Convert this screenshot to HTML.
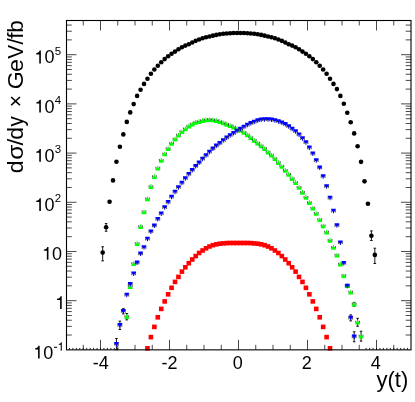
<!DOCTYPE html><html><head><meta charset="utf-8"><style>html,body{margin:0;padding:0;background:#fff}svg{display:block;will-change:transform}text{font-family:"Liberation Sans",sans-serif;fill:#000}</style></head><body>
<svg width="415" height="402" viewBox="0 0 415 402">
<rect width="415" height="402" fill="#fff"/>
<g>
<path d="M102.67 246.75V260.90M101.37 246.75h2.6M101.37 260.90h2.6" stroke="#000" stroke-width="0.9" fill="none"/>
<circle cx="102.67" cy="252.60" r="2.3" fill="#000"/>
<path d="M106.12 223.55V231.25M104.82 223.55h2.6M104.82 231.25h2.6" stroke="#000" stroke-width="0.9" fill="none"/>
<circle cx="106.12" cy="227.25" r="2.3" fill="#000"/>
<circle cx="109.56" cy="201.80" r="2.3" fill="#000"/>
<circle cx="113.01" cy="180.40" r="2.3" fill="#000"/>
<circle cx="116.45" cy="161.70" r="2.3" fill="#000"/>
<circle cx="119.90" cy="146.80" r="2.3" fill="#000"/>
<circle cx="123.34" cy="134.40" r="2.3" fill="#000"/>
<circle cx="126.79" cy="121.90" r="2.3" fill="#000"/>
<circle cx="130.23" cy="112.40" r="2.3" fill="#000"/>
<circle cx="133.68" cy="104.10" r="2.3" fill="#000"/>
<circle cx="137.12" cy="95.90" r="2.3" fill="#000"/>
<circle cx="140.57" cy="89.70" r="2.3" fill="#000"/>
<circle cx="144.01" cy="83.90" r="2.3" fill="#000"/>
<circle cx="147.46" cy="78.70" r="2.3" fill="#000"/>
<circle cx="150.90" cy="73.70" r="2.3" fill="#000"/>
<circle cx="154.35" cy="69.50" r="2.3" fill="#000"/>
<circle cx="157.79" cy="65.80" r="2.3" fill="#000"/>
<circle cx="161.24" cy="62.30" r="2.3" fill="#000"/>
<circle cx="164.68" cy="59.10" r="2.3" fill="#000"/>
<circle cx="168.13" cy="56.30" r="2.3" fill="#000"/>
<circle cx="171.57" cy="53.80" r="2.3" fill="#000"/>
<circle cx="175.02" cy="51.60" r="2.3" fill="#000"/>
<circle cx="178.46" cy="49.30" r="2.3" fill="#000"/>
<circle cx="181.91" cy="47.30" r="2.3" fill="#000"/>
<circle cx="185.35" cy="45.60" r="2.3" fill="#000"/>
<circle cx="188.80" cy="44.20" r="2.3" fill="#000"/>
<circle cx="192.24" cy="42.53" r="2.3" fill="#000"/>
<circle cx="195.69" cy="40.84" r="2.3" fill="#000"/>
<circle cx="199.13" cy="39.54" r="2.3" fill="#000"/>
<circle cx="202.58" cy="38.31" r="2.3" fill="#000"/>
<circle cx="206.02" cy="37.29" r="2.3" fill="#000"/>
<circle cx="209.47" cy="36.43" r="2.3" fill="#000"/>
<circle cx="212.91" cy="35.65" r="2.3" fill="#000"/>
<circle cx="216.36" cy="34.92" r="2.3" fill="#000"/>
<circle cx="219.80" cy="34.26" r="2.3" fill="#000"/>
<circle cx="223.25" cy="33.76" r="2.3" fill="#000"/>
<circle cx="226.69" cy="33.43" r="2.3" fill="#000"/>
<circle cx="230.14" cy="33.18" r="2.3" fill="#000"/>
<circle cx="233.58" cy="33.07" r="2.3" fill="#000"/>
<circle cx="237.03" cy="33.01" r="2.3" fill="#000"/>
<circle cx="240.47" cy="33.01" r="2.3" fill="#000"/>
<circle cx="243.92" cy="33.07" r="2.3" fill="#000"/>
<circle cx="247.36" cy="33.18" r="2.3" fill="#000"/>
<circle cx="250.81" cy="33.43" r="2.3" fill="#000"/>
<circle cx="254.25" cy="33.76" r="2.3" fill="#000"/>
<circle cx="257.70" cy="34.26" r="2.3" fill="#000"/>
<circle cx="261.14" cy="34.92" r="2.3" fill="#000"/>
<circle cx="264.59" cy="35.65" r="2.3" fill="#000"/>
<circle cx="268.03" cy="36.43" r="2.3" fill="#000"/>
<circle cx="271.48" cy="37.29" r="2.3" fill="#000"/>
<circle cx="274.92" cy="38.31" r="2.3" fill="#000"/>
<circle cx="278.37" cy="39.54" r="2.3" fill="#000"/>
<circle cx="281.81" cy="40.84" r="2.3" fill="#000"/>
<circle cx="285.26" cy="42.53" r="2.3" fill="#000"/>
<circle cx="288.70" cy="44.20" r="2.3" fill="#000"/>
<circle cx="292.15" cy="45.60" r="2.3" fill="#000"/>
<circle cx="295.59" cy="47.30" r="2.3" fill="#000"/>
<circle cx="299.04" cy="49.30" r="2.3" fill="#000"/>
<circle cx="302.48" cy="51.60" r="2.3" fill="#000"/>
<circle cx="305.93" cy="53.80" r="2.3" fill="#000"/>
<circle cx="309.37" cy="56.30" r="2.3" fill="#000"/>
<circle cx="312.82" cy="59.10" r="2.3" fill="#000"/>
<circle cx="316.26" cy="62.30" r="2.3" fill="#000"/>
<circle cx="319.71" cy="65.80" r="2.3" fill="#000"/>
<circle cx="323.15" cy="69.50" r="2.3" fill="#000"/>
<circle cx="326.60" cy="73.70" r="2.3" fill="#000"/>
<circle cx="330.04" cy="78.70" r="2.3" fill="#000"/>
<circle cx="333.49" cy="83.90" r="2.3" fill="#000"/>
<circle cx="336.93" cy="89.10" r="2.3" fill="#000"/>
<circle cx="340.38" cy="95.90" r="2.3" fill="#000"/>
<circle cx="343.82" cy="103.70" r="2.3" fill="#000"/>
<circle cx="347.27" cy="112.70" r="2.3" fill="#000"/>
<circle cx="350.71" cy="122.20" r="2.3" fill="#000"/>
<circle cx="354.16" cy="133.40" r="2.3" fill="#000"/>
<circle cx="357.60" cy="146.20" r="2.3" fill="#000"/>
<circle cx="361.05" cy="161.85" r="2.3" fill="#000"/>
<circle cx="364.49" cy="181.35" r="2.3" fill="#000"/>
<circle cx="367.94" cy="203.80" r="2.3" fill="#000"/>
<path d="M371.38 230.90V240.50M370.08 230.90h2.6M370.08 240.50h2.6" stroke="#000" stroke-width="0.9" fill="none"/>
<circle cx="371.38" cy="235.70" r="2.3" fill="#000"/>
<path d="M374.83 248.20V263.50M373.53 248.20h2.6M373.53 263.50h2.6" stroke="#000" stroke-width="0.9" fill="none"/>
<circle cx="374.83" cy="254.90" r="2.3" fill="#000"/>
<rect x="145.16" y="346.00" width="4.6" height="4.6" fill="#f00"/>
<rect x="148.60" y="334.80" width="4.6" height="4.6" fill="#f00"/>
<rect x="152.05" y="324.60" width="4.6" height="4.6" fill="#f00"/>
<rect x="155.49" y="315.00" width="4.6" height="4.6" fill="#f00"/>
<rect x="158.94" y="306.60" width="4.6" height="4.6" fill="#f00"/>
<rect x="162.38" y="299.10" width="4.6" height="4.6" fill="#f00"/>
<rect x="165.83" y="292.00" width="4.6" height="4.6" fill="#f00"/>
<rect x="169.27" y="285.50" width="4.6" height="4.6" fill="#f00"/>
<rect x="172.72" y="279.60" width="4.6" height="4.6" fill="#f00"/>
<rect x="176.16" y="274.60" width="4.6" height="4.6" fill="#f00"/>
<rect x="179.61" y="269.30" width="4.6" height="4.6" fill="#f00"/>
<rect x="183.05" y="265.00" width="4.6" height="4.6" fill="#f00"/>
<rect x="186.50" y="260.90" width="4.6" height="4.6" fill="#f00"/>
<rect x="189.94" y="257.20" width="4.6" height="4.6" fill="#f00"/>
<rect x="193.39" y="253.80" width="4.6" height="4.6" fill="#f00"/>
<rect x="196.83" y="250.70" width="4.6" height="4.6" fill="#f00"/>
<rect x="200.28" y="248.20" width="4.6" height="4.6" fill="#f00"/>
<rect x="203.72" y="246.00" width="4.6" height="4.6" fill="#f00"/>
<rect x="207.17" y="244.20" width="4.6" height="4.6" fill="#f00"/>
<rect x="210.61" y="242.90" width="4.6" height="4.6" fill="#f00"/>
<rect x="214.06" y="242.00" width="4.6" height="4.6" fill="#f00"/>
<rect x="217.50" y="241.40" width="4.6" height="4.6" fill="#f00"/>
<rect x="220.95" y="241.10" width="4.6" height="4.6" fill="#f00"/>
<rect x="224.39" y="240.80" width="4.6" height="4.6" fill="#f00"/>
<rect x="227.84" y="240.70" width="4.6" height="4.6" fill="#f00"/>
<rect x="231.28" y="240.70" width="4.6" height="4.6" fill="#f00"/>
<rect x="234.73" y="240.70" width="4.6" height="4.6" fill="#f00"/>
<rect x="238.17" y="240.70" width="4.6" height="4.6" fill="#f00"/>
<rect x="241.62" y="240.70" width="4.6" height="4.6" fill="#f00"/>
<rect x="245.06" y="240.70" width="4.6" height="4.6" fill="#f00"/>
<rect x="248.51" y="240.80" width="4.6" height="4.6" fill="#f00"/>
<rect x="251.95" y="241.10" width="4.6" height="4.6" fill="#f00"/>
<rect x="255.40" y="241.40" width="4.6" height="4.6" fill="#f00"/>
<rect x="258.84" y="242.00" width="4.6" height="4.6" fill="#f00"/>
<rect x="262.29" y="242.90" width="4.6" height="4.6" fill="#f00"/>
<rect x="265.73" y="244.20" width="4.6" height="4.6" fill="#f00"/>
<rect x="269.18" y="246.00" width="4.6" height="4.6" fill="#f00"/>
<rect x="272.62" y="248.20" width="4.6" height="4.6" fill="#f00"/>
<rect x="276.07" y="250.70" width="4.6" height="4.6" fill="#f00"/>
<rect x="279.51" y="253.80" width="4.6" height="4.6" fill="#f00"/>
<rect x="282.96" y="257.20" width="4.6" height="4.6" fill="#f00"/>
<rect x="286.40" y="260.90" width="4.6" height="4.6" fill="#f00"/>
<rect x="289.85" y="265.00" width="4.6" height="4.6" fill="#f00"/>
<rect x="293.29" y="269.30" width="4.6" height="4.6" fill="#f00"/>
<rect x="296.74" y="274.60" width="4.6" height="4.6" fill="#f00"/>
<rect x="300.18" y="279.60" width="4.6" height="4.6" fill="#f00"/>
<rect x="303.63" y="285.50" width="4.6" height="4.6" fill="#f00"/>
<rect x="307.07" y="292.00" width="4.6" height="4.6" fill="#f00"/>
<rect x="310.52" y="299.10" width="4.6" height="4.6" fill="#f00"/>
<rect x="313.96" y="306.60" width="4.6" height="4.6" fill="#f00"/>
<rect x="317.41" y="315.00" width="4.6" height="4.6" fill="#f00"/>
<rect x="320.85" y="324.60" width="4.6" height="4.6" fill="#f00"/>
<rect x="324.30" y="334.80" width="4.6" height="4.6" fill="#f00"/>
<rect x="327.74" y="346.00" width="4.6" height="4.6" fill="#f00"/>
<path d="M126.79 313.50V319.90M125.49 313.50h2.6M125.49 319.90h2.6" stroke="#000" stroke-width="0.9" fill="none"/>
<path d="M124.39 315.25h1.1v2h-1.1zM128.09 315.25h1.1v2h-1.1z" fill="#3a3040" fill-opacity="0.8"/>
<path transform="translate(126.79,316.70)" d="M-2.3 2.3H2.3V0.5H1.5L1.35 -0.5H0.6L0.47 -2.35H-0.47L-0.6 -0.5H-1.35L-1.5 0.5H-2.3Z" fill="#00ff00"/>
<path d="M127.83 285.25h1.1v2h-1.1zM131.53 285.25h1.1v2h-1.1z" fill="#3a3040" fill-opacity="0.8"/>
<path transform="translate(130.23,286.70)" d="M-2.3 2.3H2.3V0.5H1.5L1.35 -0.5H0.6L0.47 -2.35H-0.47L-0.6 -0.5H-1.35L-1.5 0.5H-2.3Z" fill="#00ff00"/>
<path d="M131.28 262.35h1.1v2h-1.1zM134.98 262.35h1.1v2h-1.1z" fill="#3a3040" fill-opacity="0.8"/>
<path transform="translate(133.68,263.80)" d="M-2.3 2.3H2.3V0.5H1.5L1.35 -0.5H0.6L0.47 -2.35H-0.47L-0.6 -0.5H-1.35L-1.5 0.5H-2.3Z" fill="#00ff00"/>
<path d="M134.72 242.25h1.1v2h-1.1zM138.42 242.25h1.1v2h-1.1z" fill="#3a3040" fill-opacity="0.8"/>
<path transform="translate(137.12,243.70)" d="M-2.3 2.3H2.3V0.5H1.5L1.35 -0.5H0.6L0.47 -2.35H-0.47L-0.6 -0.5H-1.35L-1.5 0.5H-2.3Z" fill="#00ff00"/>
<path d="M138.17 225.35h1.1v2h-1.1zM141.87 225.35h1.1v2h-1.1z" fill="#3a3040" fill-opacity="0.8"/>
<path transform="translate(140.57,226.80)" d="M-2.3 2.3H2.3V0.5H1.5L1.35 -0.5H0.6L0.47 -2.35H-0.47L-0.6 -0.5H-1.35L-1.5 0.5H-2.3Z" fill="#00ff00"/>
<path d="M141.61 210.45h1.1v2h-1.1zM145.31 210.45h1.1v2h-1.1z" fill="#3a3040" fill-opacity="0.8"/>
<path transform="translate(144.01,211.90)" d="M-2.3 2.3H2.3V0.5H1.5L1.35 -0.5H0.6L0.47 -2.35H-0.47L-0.6 -0.5H-1.35L-1.5 0.5H-2.3Z" fill="#00ff00"/>
<path d="M145.06 197.45h1.1v2h-1.1zM148.76 197.45h1.1v2h-1.1z" fill="#3a3040" fill-opacity="0.8"/>
<path transform="translate(147.46,198.90)" d="M-2.3 2.3H2.3V0.5H1.5L1.35 -0.5H0.6L0.47 -2.35H-0.47L-0.6 -0.5H-1.35L-1.5 0.5H-2.3Z" fill="#00ff00"/>
<path d="M148.50 185.25h1.1v2h-1.1zM152.20 185.25h1.1v2h-1.1z" fill="#3a3040" fill-opacity="0.8"/>
<path transform="translate(150.90,186.70)" d="M-2.3 2.3H2.3V0.5H1.5L1.35 -0.5H0.6L0.47 -2.35H-0.47L-0.6 -0.5H-1.35L-1.5 0.5H-2.3Z" fill="#00ff00"/>
<path d="M151.95 175.25h1.1v2h-1.1zM155.65 175.25h1.1v2h-1.1z" fill="#3a3040" fill-opacity="0.8"/>
<path transform="translate(154.35,176.70)" d="M-2.3 2.3H2.3V0.5H1.5L1.35 -0.5H0.6L0.47 -2.35H-0.47L-0.6 -0.5H-1.35L-1.5 0.5H-2.3Z" fill="#00ff00"/>
<path d="M155.39 166.85h1.1v2h-1.1zM159.09 166.85h1.1v2h-1.1z" fill="#3a3040" fill-opacity="0.8"/>
<path transform="translate(157.79,168.30)" d="M-2.3 2.3H2.3V0.5H1.5L1.35 -0.5H0.6L0.47 -2.35H-0.47L-0.6 -0.5H-1.35L-1.5 0.5H-2.3Z" fill="#00ff00"/>
<path d="M158.84 158.95h1.1v2h-1.1zM162.54 158.95h1.1v2h-1.1z" fill="#3a3040" fill-opacity="0.8"/>
<path transform="translate(161.24,160.40)" d="M-2.3 2.3H2.3V0.5H1.5L1.35 -0.5H0.6L0.47 -2.35H-0.47L-0.6 -0.5H-1.35L-1.5 0.5H-2.3Z" fill="#00ff00"/>
<path d="M162.28 152.55h1.1v2h-1.1zM165.98 152.55h1.1v2h-1.1z" fill="#3a3040" fill-opacity="0.8"/>
<path transform="translate(164.68,154.00)" d="M-2.3 2.3H2.3V0.5H1.5L1.35 -0.5H0.6L0.47 -2.35H-0.47L-0.6 -0.5H-1.35L-1.5 0.5H-2.3Z" fill="#00ff00"/>
<path d="M165.73 147.15h1.1v2h-1.1zM169.43 147.15h1.1v2h-1.1z" fill="#3a3040" fill-opacity="0.8"/>
<path transform="translate(168.13,148.60)" d="M-2.3 2.3H2.3V0.5H1.5L1.35 -0.5H0.6L0.47 -2.35H-0.47L-0.6 -0.5H-1.35L-1.5 0.5H-2.3Z" fill="#00ff00"/>
<path d="M169.17 142.05h1.1v2h-1.1zM172.87 142.05h1.1v2h-1.1z" fill="#3a3040" fill-opacity="0.8"/>
<path transform="translate(171.57,143.50)" d="M-2.3 2.3H2.3V0.5H1.5L1.35 -0.5H0.6L0.47 -2.35H-0.47L-0.6 -0.5H-1.35L-1.5 0.5H-2.3Z" fill="#00ff00"/>
<path d="M172.62 137.65h1.1v2h-1.1zM176.32 137.65h1.1v2h-1.1z" fill="#3a3040" fill-opacity="0.8"/>
<path transform="translate(175.02,139.10)" d="M-2.3 2.3H2.3V0.5H1.5L1.35 -0.5H0.6L0.47 -2.35H-0.47L-0.6 -0.5H-1.35L-1.5 0.5H-2.3Z" fill="#00ff00"/>
<path d="M176.06 133.85h1.1v2h-1.1zM179.76 133.85h1.1v2h-1.1z" fill="#3a3040" fill-opacity="0.8"/>
<path transform="translate(178.46,135.30)" d="M-2.3 2.3H2.3V0.5H1.5L1.35 -0.5H0.6L0.47 -2.35H-0.47L-0.6 -0.5H-1.35L-1.5 0.5H-2.3Z" fill="#00ff00"/>
<path d="M179.51 130.35h1.1v2h-1.1zM183.21 130.35h1.1v2h-1.1z" fill="#3a3040" fill-opacity="0.8"/>
<path transform="translate(181.91,131.80)" d="M-2.3 2.3H2.3V0.5H1.5L1.35 -0.5H0.6L0.47 -2.35H-0.47L-0.6 -0.5H-1.35L-1.5 0.5H-2.3Z" fill="#00ff00"/>
<path d="M182.95 127.45h1.1v2h-1.1zM186.65 127.45h1.1v2h-1.1z" fill="#3a3040" fill-opacity="0.8"/>
<path transform="translate(185.35,128.90)" d="M-2.3 2.3H2.3V0.5H1.5L1.35 -0.5H0.6L0.47 -2.35H-0.47L-0.6 -0.5H-1.35L-1.5 0.5H-2.3Z" fill="#00ff00"/>
<path d="M186.40 124.65h1.1v2h-1.1zM190.10 124.65h1.1v2h-1.1z" fill="#3a3040" fill-opacity="0.8"/>
<path transform="translate(188.80,126.10)" d="M-2.3 2.3H2.3V0.5H1.5L1.35 -0.5H0.6L0.47 -2.35H-0.47L-0.6 -0.5H-1.35L-1.5 0.5H-2.3Z" fill="#00ff00"/>
<path d="M189.84 122.65h1.1v2h-1.1zM193.54 122.65h1.1v2h-1.1z" fill="#3a3040" fill-opacity="0.8"/>
<path transform="translate(192.24,124.10)" d="M-2.3 2.3H2.3V0.5H1.5L1.35 -0.5H0.6L0.47 -2.35H-0.47L-0.6 -0.5H-1.35L-1.5 0.5H-2.3Z" fill="#00ff00"/>
<path d="M193.29 120.95h1.1v2h-1.1zM196.99 120.95h1.1v2h-1.1z" fill="#3a3040" fill-opacity="0.8"/>
<path transform="translate(195.69,122.40)" d="M-2.3 2.3H2.3V0.5H1.5L1.35 -0.5H0.6L0.47 -2.35H-0.47L-0.6 -0.5H-1.35L-1.5 0.5H-2.3Z" fill="#00ff00"/>
<path d="M196.73 120.15h1.1v2h-1.1zM200.43 120.15h1.1v2h-1.1z" fill="#3a3040" fill-opacity="0.8"/>
<path transform="translate(199.13,121.60)" d="M-2.3 2.3H2.3V0.5H1.5L1.35 -0.5H0.6L0.47 -2.35H-0.47L-0.6 -0.5H-1.35L-1.5 0.5H-2.3Z" fill="#00ff00"/>
<path d="M200.18 119.15h1.1v2h-1.1zM203.88 119.15h1.1v2h-1.1z" fill="#3a3040" fill-opacity="0.8"/>
<path transform="translate(202.58,120.60)" d="M-2.3 2.3H2.3V0.5H1.5L1.35 -0.5H0.6L0.47 -2.35H-0.47L-0.6 -0.5H-1.35L-1.5 0.5H-2.3Z" fill="#00ff00"/>
<path d="M203.62 118.50h1.1v2h-1.1zM207.32 118.50h1.1v2h-1.1z" fill="#3a3040" fill-opacity="0.8"/>
<path transform="translate(206.02,119.95)" d="M-2.3 2.3H2.3V0.5H1.5L1.35 -0.5H0.6L0.47 -2.35H-0.47L-0.6 -0.5H-1.35L-1.5 0.5H-2.3Z" fill="#00ff00"/>
<path d="M207.07 118.30h1.1v2h-1.1zM210.77 118.30h1.1v2h-1.1z" fill="#3a3040" fill-opacity="0.8"/>
<path transform="translate(209.47,119.75)" d="M-2.3 2.3H2.3V0.5H1.5L1.35 -0.5H0.6L0.47 -2.35H-0.47L-0.6 -0.5H-1.35L-1.5 0.5H-2.3Z" fill="#00ff00"/>
<path d="M210.51 118.50h1.1v2h-1.1zM214.21 118.50h1.1v2h-1.1z" fill="#3a3040" fill-opacity="0.8"/>
<path transform="translate(212.91,119.95)" d="M-2.3 2.3H2.3V0.5H1.5L1.35 -0.5H0.6L0.47 -2.35H-0.47L-0.6 -0.5H-1.35L-1.5 0.5H-2.3Z" fill="#00ff00"/>
<path d="M213.96 119.15h1.1v2h-1.1zM217.66 119.15h1.1v2h-1.1z" fill="#3a3040" fill-opacity="0.8"/>
<path transform="translate(216.36,120.60)" d="M-2.3 2.3H2.3V0.5H1.5L1.35 -0.5H0.6L0.47 -2.35H-0.47L-0.6 -0.5H-1.35L-1.5 0.5H-2.3Z" fill="#00ff00"/>
<path d="M217.40 120.15h1.1v2h-1.1zM221.10 120.15h1.1v2h-1.1z" fill="#3a3040" fill-opacity="0.8"/>
<path transform="translate(219.80,121.60)" d="M-2.3 2.3H2.3V0.5H1.5L1.35 -0.5H0.6L0.47 -2.35H-0.47L-0.6 -0.5H-1.35L-1.5 0.5H-2.3Z" fill="#00ff00"/>
<path d="M220.85 121.45h1.1v2h-1.1zM224.55 121.45h1.1v2h-1.1z" fill="#3a3040" fill-opacity="0.8"/>
<path transform="translate(223.25,122.90)" d="M-2.3 2.3H2.3V0.5H1.5L1.35 -0.5H0.6L0.47 -2.35H-0.47L-0.6 -0.5H-1.35L-1.5 0.5H-2.3Z" fill="#00ff00"/>
<path d="M224.29 122.95h1.1v2h-1.1zM227.99 122.95h1.1v2h-1.1z" fill="#3a3040" fill-opacity="0.8"/>
<path transform="translate(226.69,124.40)" d="M-2.3 2.3H2.3V0.5H1.5L1.35 -0.5H0.6L0.47 -2.35H-0.47L-0.6 -0.5H-1.35L-1.5 0.5H-2.3Z" fill="#00ff00"/>
<path d="M227.74 124.20h1.1v2h-1.1zM231.44 124.20h1.1v2h-1.1z" fill="#3a3040" fill-opacity="0.8"/>
<path transform="translate(230.14,125.65)" d="M-2.3 2.3H2.3V0.5H1.5L1.35 -0.5H0.6L0.47 -2.35H-0.47L-0.6 -0.5H-1.35L-1.5 0.5H-2.3Z" fill="#00ff00"/>
<path d="M231.18 125.70h1.1v2h-1.1zM234.88 125.70h1.1v2h-1.1z" fill="#3a3040" fill-opacity="0.8"/>
<path transform="translate(233.58,127.15)" d="M-2.3 2.3H2.3V0.5H1.5L1.35 -0.5H0.6L0.47 -2.35H-0.47L-0.6 -0.5H-1.35L-1.5 0.5H-2.3Z" fill="#00ff00"/>
<path d="M234.63 127.45h1.1v2h-1.1zM238.33 127.45h1.1v2h-1.1z" fill="#3a3040" fill-opacity="0.8"/>
<path transform="translate(237.03,128.90)" d="M-2.3 2.3H2.3V0.5H1.5L1.35 -0.5H0.6L0.47 -2.35H-0.47L-0.6 -0.5H-1.35L-1.5 0.5H-2.3Z" fill="#00ff00"/>
<path d="M238.07 128.75h1.1v2h-1.1zM241.77 128.75h1.1v2h-1.1z" fill="#3a3040" fill-opacity="0.8"/>
<path transform="translate(240.47,130.20)" d="M-2.3 2.3H2.3V0.5H1.5L1.35 -0.5H0.6L0.47 -2.35H-0.47L-0.6 -0.5H-1.35L-1.5 0.5H-2.3Z" fill="#00ff00"/>
<path d="M241.52 131.05h1.1v2h-1.1zM245.22 131.05h1.1v2h-1.1z" fill="#3a3040" fill-opacity="0.8"/>
<path transform="translate(243.92,132.50)" d="M-2.3 2.3H2.3V0.5H1.5L1.35 -0.5H0.6L0.47 -2.35H-0.47L-0.6 -0.5H-1.35L-1.5 0.5H-2.3Z" fill="#00ff00"/>
<path d="M244.96 133.45h1.1v2h-1.1zM248.66 133.45h1.1v2h-1.1z" fill="#3a3040" fill-opacity="0.8"/>
<path transform="translate(247.36,134.90)" d="M-2.3 2.3H2.3V0.5H1.5L1.35 -0.5H0.6L0.47 -2.35H-0.47L-0.6 -0.5H-1.35L-1.5 0.5H-2.3Z" fill="#00ff00"/>
<path d="M248.41 136.25h1.1v2h-1.1zM252.11 136.25h1.1v2h-1.1z" fill="#3a3040" fill-opacity="0.8"/>
<path transform="translate(250.81,137.70)" d="M-2.3 2.3H2.3V0.5H1.5L1.35 -0.5H0.6L0.47 -2.35H-0.47L-0.6 -0.5H-1.35L-1.5 0.5H-2.3Z" fill="#00ff00"/>
<path d="M251.85 139.00h1.1v2h-1.1zM255.55 139.00h1.1v2h-1.1z" fill="#3a3040" fill-opacity="0.8"/>
<path transform="translate(254.25,140.45)" d="M-2.3 2.3H2.3V0.5H1.5L1.35 -0.5H0.6L0.47 -2.35H-0.47L-0.6 -0.5H-1.35L-1.5 0.5H-2.3Z" fill="#00ff00"/>
<path d="M255.30 141.70h1.1v2h-1.1zM259.00 141.70h1.1v2h-1.1z" fill="#3a3040" fill-opacity="0.8"/>
<path transform="translate(257.70,143.15)" d="M-2.3 2.3H2.3V0.5H1.5L1.35 -0.5H0.6L0.47 -2.35H-0.47L-0.6 -0.5H-1.35L-1.5 0.5H-2.3Z" fill="#00ff00"/>
<path d="M258.74 144.50h1.1v2h-1.1zM262.44 144.50h1.1v2h-1.1z" fill="#3a3040" fill-opacity="0.8"/>
<path transform="translate(261.14,145.95)" d="M-2.3 2.3H2.3V0.5H1.5L1.35 -0.5H0.6L0.47 -2.35H-0.47L-0.6 -0.5H-1.35L-1.5 0.5H-2.3Z" fill="#00ff00"/>
<path d="M262.19 147.35h1.1v2h-1.1zM265.89 147.35h1.1v2h-1.1z" fill="#3a3040" fill-opacity="0.8"/>
<path transform="translate(264.59,148.80)" d="M-2.3 2.3H2.3V0.5H1.5L1.35 -0.5H0.6L0.47 -2.35H-0.47L-0.6 -0.5H-1.35L-1.5 0.5H-2.3Z" fill="#00ff00"/>
<path d="M265.63 150.65h1.1v2h-1.1zM269.33 150.65h1.1v2h-1.1z" fill="#3a3040" fill-opacity="0.8"/>
<path transform="translate(268.03,152.10)" d="M-2.3 2.3H2.3V0.5H1.5L1.35 -0.5H0.6L0.47 -2.35H-0.47L-0.6 -0.5H-1.35L-1.5 0.5H-2.3Z" fill="#00ff00"/>
<path d="M269.08 153.80h1.1v2h-1.1zM272.78 153.80h1.1v2h-1.1z" fill="#3a3040" fill-opacity="0.8"/>
<path transform="translate(271.48,155.25)" d="M-2.3 2.3H2.3V0.5H1.5L1.35 -0.5H0.6L0.47 -2.35H-0.47L-0.6 -0.5H-1.35L-1.5 0.5H-2.3Z" fill="#00ff00"/>
<path d="M272.52 157.30h1.1v2h-1.1zM276.22 157.30h1.1v2h-1.1z" fill="#3a3040" fill-opacity="0.8"/>
<path transform="translate(274.92,158.75)" d="M-2.3 2.3H2.3V0.5H1.5L1.35 -0.5H0.6L0.47 -2.35H-0.47L-0.6 -0.5H-1.35L-1.5 0.5H-2.3Z" fill="#00ff00"/>
<path d="M275.97 161.25h1.1v2h-1.1zM279.67 161.25h1.1v2h-1.1z" fill="#3a3040" fill-opacity="0.8"/>
<path transform="translate(278.37,162.70)" d="M-2.3 2.3H2.3V0.5H1.5L1.35 -0.5H0.6L0.47 -2.35H-0.47L-0.6 -0.5H-1.35L-1.5 0.5H-2.3Z" fill="#00ff00"/>
<path d="M279.41 165.05h1.1v2h-1.1zM283.11 165.05h1.1v2h-1.1z" fill="#3a3040" fill-opacity="0.8"/>
<path transform="translate(281.81,166.50)" d="M-2.3 2.3H2.3V0.5H1.5L1.35 -0.5H0.6L0.47 -2.35H-0.47L-0.6 -0.5H-1.35L-1.5 0.5H-2.3Z" fill="#00ff00"/>
<path d="M282.86 169.00h1.1v2h-1.1zM286.56 169.00h1.1v2h-1.1z" fill="#3a3040" fill-opacity="0.8"/>
<path transform="translate(285.26,170.45)" d="M-2.3 2.3H2.3V0.5H1.5L1.35 -0.5H0.6L0.47 -2.35H-0.47L-0.6 -0.5H-1.35L-1.5 0.5H-2.3Z" fill="#00ff00"/>
<path d="M286.30 172.95h1.1v2h-1.1zM290.00 172.95h1.1v2h-1.1z" fill="#3a3040" fill-opacity="0.8"/>
<path transform="translate(288.70,174.40)" d="M-2.3 2.3H2.3V0.5H1.5L1.35 -0.5H0.6L0.47 -2.35H-0.47L-0.6 -0.5H-1.35L-1.5 0.5H-2.3Z" fill="#00ff00"/>
<path d="M289.75 177.15h1.1v2h-1.1zM293.45 177.15h1.1v2h-1.1z" fill="#3a3040" fill-opacity="0.8"/>
<path transform="translate(292.15,178.60)" d="M-2.3 2.3H2.3V0.5H1.5L1.35 -0.5H0.6L0.47 -2.35H-0.47L-0.6 -0.5H-1.35L-1.5 0.5H-2.3Z" fill="#00ff00"/>
<path d="M293.19 181.25h1.1v2h-1.1zM296.89 181.25h1.1v2h-1.1z" fill="#3a3040" fill-opacity="0.8"/>
<path transform="translate(295.59,182.70)" d="M-2.3 2.3H2.3V0.5H1.5L1.35 -0.5H0.6L0.47 -2.35H-0.47L-0.6 -0.5H-1.35L-1.5 0.5H-2.3Z" fill="#00ff00"/>
<path d="M296.64 186.05h1.1v2h-1.1zM300.34 186.05h1.1v2h-1.1z" fill="#3a3040" fill-opacity="0.8"/>
<path transform="translate(299.04,187.50)" d="M-2.3 2.3H2.3V0.5H1.5L1.35 -0.5H0.6L0.47 -2.35H-0.47L-0.6 -0.5H-1.35L-1.5 0.5H-2.3Z" fill="#00ff00"/>
<path d="M300.08 190.95h1.1v2h-1.1zM303.78 190.95h1.1v2h-1.1z" fill="#3a3040" fill-opacity="0.8"/>
<path transform="translate(302.48,192.40)" d="M-2.3 2.3H2.3V0.5H1.5L1.35 -0.5H0.6L0.47 -2.35H-0.47L-0.6 -0.5H-1.35L-1.5 0.5H-2.3Z" fill="#00ff00"/>
<path d="M303.53 195.95h1.1v2h-1.1zM307.23 195.95h1.1v2h-1.1z" fill="#3a3040" fill-opacity="0.8"/>
<path transform="translate(305.93,197.40)" d="M-2.3 2.3H2.3V0.5H1.5L1.35 -0.5H0.6L0.47 -2.35H-0.47L-0.6 -0.5H-1.35L-1.5 0.5H-2.3Z" fill="#00ff00"/>
<path d="M306.97 201.15h1.1v2h-1.1zM310.67 201.15h1.1v2h-1.1z" fill="#3a3040" fill-opacity="0.8"/>
<path transform="translate(309.37,202.60)" d="M-2.3 2.3H2.3V0.5H1.5L1.35 -0.5H0.6L0.47 -2.35H-0.47L-0.6 -0.5H-1.35L-1.5 0.5H-2.3Z" fill="#00ff00"/>
<path d="M310.42 206.65h1.1v2h-1.1zM314.12 206.65h1.1v2h-1.1z" fill="#3a3040" fill-opacity="0.8"/>
<path transform="translate(312.82,208.10)" d="M-2.3 2.3H2.3V0.5H1.5L1.35 -0.5H0.6L0.47 -2.35H-0.47L-0.6 -0.5H-1.35L-1.5 0.5H-2.3Z" fill="#00ff00"/>
<path d="M313.86 212.05h1.1v2h-1.1zM317.56 212.05h1.1v2h-1.1z" fill="#3a3040" fill-opacity="0.8"/>
<path transform="translate(316.26,213.50)" d="M-2.3 2.3H2.3V0.5H1.5L1.35 -0.5H0.6L0.47 -2.35H-0.47L-0.6 -0.5H-1.35L-1.5 0.5H-2.3Z" fill="#00ff00"/>
<path d="M317.31 218.35h1.1v2h-1.1zM321.01 218.35h1.1v2h-1.1z" fill="#3a3040" fill-opacity="0.8"/>
<path transform="translate(319.71,219.80)" d="M-2.3 2.3H2.3V0.5H1.5L1.35 -0.5H0.6L0.47 -2.35H-0.47L-0.6 -0.5H-1.35L-1.5 0.5H-2.3Z" fill="#00ff00"/>
<path d="M320.75 224.55h1.1v2h-1.1zM324.45 224.55h1.1v2h-1.1z" fill="#3a3040" fill-opacity="0.8"/>
<path transform="translate(323.15,226.00)" d="M-2.3 2.3H2.3V0.5H1.5L1.35 -0.5H0.6L0.47 -2.35H-0.47L-0.6 -0.5H-1.35L-1.5 0.5H-2.3Z" fill="#00ff00"/>
<path d="M324.20 230.75h1.1v2h-1.1zM327.90 230.75h1.1v2h-1.1z" fill="#3a3040" fill-opacity="0.8"/>
<path transform="translate(326.60,232.20)" d="M-2.3 2.3H2.3V0.5H1.5L1.35 -0.5H0.6L0.47 -2.35H-0.47L-0.6 -0.5H-1.35L-1.5 0.5H-2.3Z" fill="#00ff00"/>
<path d="M327.64 238.95h1.1v2h-1.1zM331.34 238.95h1.1v2h-1.1z" fill="#3a3040" fill-opacity="0.8"/>
<path transform="translate(330.04,240.40)" d="M-2.3 2.3H2.3V0.5H1.5L1.35 -0.5H0.6L0.47 -2.35H-0.47L-0.6 -0.5H-1.35L-1.5 0.5H-2.3Z" fill="#00ff00"/>
<path d="M331.09 245.95h1.1v2h-1.1zM334.79 245.95h1.1v2h-1.1z" fill="#3a3040" fill-opacity="0.8"/>
<path transform="translate(333.49,247.40)" d="M-2.3 2.3H2.3V0.5H1.5L1.35 -0.5H0.6L0.47 -2.35H-0.47L-0.6 -0.5H-1.35L-1.5 0.5H-2.3Z" fill="#00ff00"/>
<path d="M334.53 253.85h1.1v2h-1.1zM338.23 253.85h1.1v2h-1.1z" fill="#3a3040" fill-opacity="0.8"/>
<path transform="translate(336.93,255.30)" d="M-2.3 2.3H2.3V0.5H1.5L1.35 -0.5H0.6L0.47 -2.35H-0.47L-0.6 -0.5H-1.35L-1.5 0.5H-2.3Z" fill="#00ff00"/>
<path d="M337.98 262.75h1.1v2h-1.1zM341.68 262.75h1.1v2h-1.1z" fill="#3a3040" fill-opacity="0.8"/>
<path transform="translate(340.38,264.20)" d="M-2.3 2.3H2.3V0.5H1.5L1.35 -0.5H0.6L0.47 -2.35H-0.47L-0.6 -0.5H-1.35L-1.5 0.5H-2.3Z" fill="#00ff00"/>
<path d="M341.42 274.35h1.1v2h-1.1zM345.12 274.35h1.1v2h-1.1z" fill="#3a3040" fill-opacity="0.8"/>
<path transform="translate(343.82,275.80)" d="M-2.3 2.3H2.3V0.5H1.5L1.35 -0.5H0.6L0.47 -2.35H-0.47L-0.6 -0.5H-1.35L-1.5 0.5H-2.3Z" fill="#00ff00"/>
<path d="M344.87 284.25h1.1v2h-1.1zM348.57 284.25h1.1v2h-1.1z" fill="#3a3040" fill-opacity="0.8"/>
<path transform="translate(347.27,285.70)" d="M-2.3 2.3H2.3V0.5H1.5L1.35 -0.5H0.6L0.47 -2.35H-0.47L-0.6 -0.5H-1.35L-1.5 0.5H-2.3Z" fill="#00ff00"/>
<path d="M348.31 290.85h1.1v2h-1.1zM352.01 290.85h1.1v2h-1.1z" fill="#3a3040" fill-opacity="0.8"/>
<path transform="translate(350.71,292.30)" d="M-2.3 2.3H2.3V0.5H1.5L1.35 -0.5H0.6L0.47 -2.35H-0.47L-0.6 -0.5H-1.35L-1.5 0.5H-2.3Z" fill="#00ff00"/>
<path d="M354.16 302.40V306.20M352.86 302.40h2.6M352.86 306.20h2.6" stroke="#000" stroke-width="0.9" fill="none"/>
<path d="M351.76 302.85h1.1v2h-1.1zM355.46 302.85h1.1v2h-1.1z" fill="#3a3040" fill-opacity="0.8"/>
<path transform="translate(354.16,304.30)" d="M-2.3 2.3H2.3V0.5H1.5L1.35 -0.5H0.6L0.47 -2.35H-0.47L-0.6 -0.5H-1.35L-1.5 0.5H-2.3Z" fill="#00ff00"/>
<path d="M357.60 318.30V326.30M356.30 318.30h2.6M356.30 326.30h2.6" stroke="#000" stroke-width="0.9" fill="none"/>
<path d="M355.20 320.85h1.1v2h-1.1zM358.90 320.85h1.1v2h-1.1z" fill="#3a3040" fill-opacity="0.8"/>
<path transform="translate(357.60,322.30)" d="M-2.3 2.3H2.3V0.5H1.5L1.35 -0.5H0.6L0.47 -2.35H-0.47L-0.6 -0.5H-1.35L-1.5 0.5H-2.3Z" fill="#00ff00"/>
<path d="M361.05 331.20V341.20M359.75 331.20h2.6M359.75 341.20h2.6" stroke="#000" stroke-width="0.9" fill="none"/>
<path d="M358.65 334.75h1.1v2h-1.1zM362.35 334.75h1.1v2h-1.1z" fill="#3a3040" fill-opacity="0.8"/>
<path transform="translate(361.05,336.20)" d="M-2.3 2.3H2.3V0.5H1.5L1.35 -0.5H0.6L0.47 -2.35H-0.47L-0.6 -0.5H-1.35L-1.5 0.5H-2.3Z" fill="#00ff00"/>
<path d="M116.45 338.50V349.70M115.15 338.50h2.6M115.15 349.70h2.6" stroke="#000" stroke-width="0.9" fill="none"/>
<path d="M114.05 343.60h1.1v2h-1.1zM117.75 343.60h1.1v2h-1.1z" fill="#38381c" fill-opacity="0.8"/>
<path transform="translate(116.45,344.10)" d="M-2.3 -2.2H2.3V-0.4H1.5L1.35 0.6H0.6L0.47 2.3H-0.47L-0.6 0.6H-1.35L-1.5 -0.4H-2.3Z" fill="#0000ff"/>
<path d="M119.90 321.10V329.50M118.60 321.10h2.6M118.60 329.50h2.6" stroke="#000" stroke-width="0.9" fill="none"/>
<path d="M117.50 324.80h1.1v2h-1.1zM121.20 324.80h1.1v2h-1.1z" fill="#38381c" fill-opacity="0.8"/>
<path transform="translate(119.90,325.30)" d="M-2.3 -2.2H2.3V-0.4H1.5L1.35 0.6H0.6L0.47 2.3H-0.47L-0.6 0.6H-1.35L-1.5 -0.4H-2.3Z" fill="#0000ff"/>
<path d="M123.34 308.70V313.90M122.04 308.70h2.6M122.04 313.90h2.6" stroke="#000" stroke-width="0.9" fill="none"/>
<path d="M120.94 310.80h1.1v2h-1.1zM124.64 310.80h1.1v2h-1.1z" fill="#38381c" fill-opacity="0.8"/>
<path transform="translate(123.34,311.30)" d="M-2.3 -2.2H2.3V-0.4H1.5L1.35 0.6H0.6L0.47 2.3H-0.47L-0.6 0.6H-1.35L-1.5 -0.4H-2.3Z" fill="#0000ff"/>
<path d="M124.39 294.50h1.1v2h-1.1zM128.09 294.50h1.1v2h-1.1z" fill="#38381c" fill-opacity="0.8"/>
<path transform="translate(126.79,295.00)" d="M-2.3 -2.2H2.3V-0.4H1.5L1.35 0.6H0.6L0.47 2.3H-0.47L-0.6 0.6H-1.35L-1.5 -0.4H-2.3Z" fill="#0000ff"/>
<path d="M127.83 283.80h1.1v2h-1.1zM131.53 283.80h1.1v2h-1.1z" fill="#38381c" fill-opacity="0.8"/>
<path transform="translate(130.23,284.30)" d="M-2.3 -2.2H2.3V-0.4H1.5L1.35 0.6H0.6L0.47 2.3H-0.47L-0.6 0.6H-1.35L-1.5 -0.4H-2.3Z" fill="#0000ff"/>
<path d="M131.28 273.20h1.1v2h-1.1zM134.98 273.20h1.1v2h-1.1z" fill="#38381c" fill-opacity="0.8"/>
<path transform="translate(133.68,273.70)" d="M-2.3 -2.2H2.3V-0.4H1.5L1.35 0.6H0.6L0.47 2.3H-0.47L-0.6 0.6H-1.35L-1.5 -0.4H-2.3Z" fill="#0000ff"/>
<path d="M134.72 262.30h1.1v2h-1.1zM138.42 262.30h1.1v2h-1.1z" fill="#38381c" fill-opacity="0.8"/>
<path transform="translate(137.12,262.80)" d="M-2.3 -2.2H2.3V-0.4H1.5L1.35 0.6H0.6L0.47 2.3H-0.47L-0.6 0.6H-1.35L-1.5 -0.4H-2.3Z" fill="#0000ff"/>
<path d="M138.17 253.30h1.1v2h-1.1zM141.87 253.30h1.1v2h-1.1z" fill="#38381c" fill-opacity="0.8"/>
<path transform="translate(140.57,253.80)" d="M-2.3 -2.2H2.3V-0.4H1.5L1.35 0.6H0.6L0.47 2.3H-0.47L-0.6 0.6H-1.35L-1.5 -0.4H-2.3Z" fill="#0000ff"/>
<path d="M141.61 247.00h1.1v2h-1.1zM145.31 247.00h1.1v2h-1.1z" fill="#38381c" fill-opacity="0.8"/>
<path transform="translate(144.01,247.50)" d="M-2.3 -2.2H2.3V-0.4H1.5L1.35 0.6H0.6L0.47 2.3H-0.47L-0.6 0.6H-1.35L-1.5 -0.4H-2.3Z" fill="#0000ff"/>
<path d="M145.06 238.50h1.1v2h-1.1zM148.76 238.50h1.1v2h-1.1z" fill="#38381c" fill-opacity="0.8"/>
<path transform="translate(147.46,239.00)" d="M-2.3 -2.2H2.3V-0.4H1.5L1.35 0.6H0.6L0.47 2.3H-0.47L-0.6 0.6H-1.35L-1.5 -0.4H-2.3Z" fill="#0000ff"/>
<path d="M148.50 231.10h1.1v2h-1.1zM152.20 231.10h1.1v2h-1.1z" fill="#38381c" fill-opacity="0.8"/>
<path transform="translate(150.90,231.60)" d="M-2.3 -2.2H2.3V-0.4H1.5L1.35 0.6H0.6L0.47 2.3H-0.47L-0.6 0.6H-1.35L-1.5 -0.4H-2.3Z" fill="#0000ff"/>
<path d="M151.95 225.30h1.1v2h-1.1zM155.65 225.30h1.1v2h-1.1z" fill="#38381c" fill-opacity="0.8"/>
<path transform="translate(154.35,225.80)" d="M-2.3 -2.2H2.3V-0.4H1.5L1.35 0.6H0.6L0.47 2.3H-0.47L-0.6 0.6H-1.35L-1.5 -0.4H-2.3Z" fill="#0000ff"/>
<path d="M155.39 218.76h1.1v2h-1.1zM159.09 218.76h1.1v2h-1.1z" fill="#38381c" fill-opacity="0.8"/>
<path transform="translate(157.79,219.26)" d="M-2.3 -2.2H2.3V-0.4H1.5L1.35 0.6H0.6L0.47 2.3H-0.47L-0.6 0.6H-1.35L-1.5 -0.4H-2.3Z" fill="#0000ff"/>
<path d="M158.84 213.27h1.1v2h-1.1zM162.54 213.27h1.1v2h-1.1z" fill="#38381c" fill-opacity="0.8"/>
<path transform="translate(161.24,213.77)" d="M-2.3 -2.2H2.3V-0.4H1.5L1.35 0.6H0.6L0.47 2.3H-0.47L-0.6 0.6H-1.35L-1.5 -0.4H-2.3Z" fill="#0000ff"/>
<path d="M162.28 206.94h1.1v2h-1.1zM165.98 206.94h1.1v2h-1.1z" fill="#38381c" fill-opacity="0.8"/>
<path transform="translate(164.68,207.44)" d="M-2.3 -2.2H2.3V-0.4H1.5L1.35 0.6H0.6L0.47 2.3H-0.47L-0.6 0.6H-1.35L-1.5 -0.4H-2.3Z" fill="#0000ff"/>
<path d="M165.73 201.74h1.1v2h-1.1zM169.43 201.74h1.1v2h-1.1z" fill="#38381c" fill-opacity="0.8"/>
<path transform="translate(168.13,202.24)" d="M-2.3 -2.2H2.3V-0.4H1.5L1.35 0.6H0.6L0.47 2.3H-0.47L-0.6 0.6H-1.35L-1.5 -0.4H-2.3Z" fill="#0000ff"/>
<path d="M169.17 196.50h1.1v2h-1.1zM172.87 196.50h1.1v2h-1.1z" fill="#38381c" fill-opacity="0.8"/>
<path transform="translate(171.57,197.00)" d="M-2.3 -2.2H2.3V-0.4H1.5L1.35 0.6H0.6L0.47 2.3H-0.47L-0.6 0.6H-1.35L-1.5 -0.4H-2.3Z" fill="#0000ff"/>
<path d="M172.62 191.50h1.1v2h-1.1zM176.32 191.50h1.1v2h-1.1z" fill="#38381c" fill-opacity="0.8"/>
<path transform="translate(175.02,192.00)" d="M-2.3 -2.2H2.3V-0.4H1.5L1.35 0.6H0.6L0.47 2.3H-0.47L-0.6 0.6H-1.35L-1.5 -0.4H-2.3Z" fill="#0000ff"/>
<path d="M176.06 186.85h1.1v2h-1.1zM179.76 186.85h1.1v2h-1.1z" fill="#38381c" fill-opacity="0.8"/>
<path transform="translate(178.46,187.35)" d="M-2.3 -2.2H2.3V-0.4H1.5L1.35 0.6H0.6L0.47 2.3H-0.47L-0.6 0.6H-1.35L-1.5 -0.4H-2.3Z" fill="#0000ff"/>
<path d="M179.51 182.50h1.1v2h-1.1zM183.21 182.50h1.1v2h-1.1z" fill="#38381c" fill-opacity="0.8"/>
<path transform="translate(181.91,183.00)" d="M-2.3 -2.2H2.3V-0.4H1.5L1.35 0.6H0.6L0.47 2.3H-0.47L-0.6 0.6H-1.35L-1.5 -0.4H-2.3Z" fill="#0000ff"/>
<path d="M182.95 177.95h1.1v2h-1.1zM186.65 177.95h1.1v2h-1.1z" fill="#38381c" fill-opacity="0.8"/>
<path transform="translate(185.35,178.45)" d="M-2.3 -2.2H2.3V-0.4H1.5L1.35 0.6H0.6L0.47 2.3H-0.47L-0.6 0.6H-1.35L-1.5 -0.4H-2.3Z" fill="#0000ff"/>
<path d="M186.40 173.75h1.1v2h-1.1zM190.10 173.75h1.1v2h-1.1z" fill="#38381c" fill-opacity="0.8"/>
<path transform="translate(188.80,174.25)" d="M-2.3 -2.2H2.3V-0.4H1.5L1.35 0.6H0.6L0.47 2.3H-0.47L-0.6 0.6H-1.35L-1.5 -0.4H-2.3Z" fill="#0000ff"/>
<path d="M189.84 169.80h1.1v2h-1.1zM193.54 169.80h1.1v2h-1.1z" fill="#38381c" fill-opacity="0.8"/>
<path transform="translate(192.24,170.30)" d="M-2.3 -2.2H2.3V-0.4H1.5L1.35 0.6H0.6L0.47 2.3H-0.47L-0.6 0.6H-1.35L-1.5 -0.4H-2.3Z" fill="#0000ff"/>
<path d="M193.29 165.80h1.1v2h-1.1zM196.99 165.80h1.1v2h-1.1z" fill="#38381c" fill-opacity="0.8"/>
<path transform="translate(195.69,166.30)" d="M-2.3 -2.2H2.3V-0.4H1.5L1.35 0.6H0.6L0.47 2.3H-0.47L-0.6 0.6H-1.35L-1.5 -0.4H-2.3Z" fill="#0000ff"/>
<path d="M196.73 162.30h1.1v2h-1.1zM200.43 162.30h1.1v2h-1.1z" fill="#38381c" fill-opacity="0.8"/>
<path transform="translate(199.13,162.80)" d="M-2.3 -2.2H2.3V-0.4H1.5L1.35 0.6H0.6L0.47 2.3H-0.47L-0.6 0.6H-1.35L-1.5 -0.4H-2.3Z" fill="#0000ff"/>
<path d="M200.18 158.50h1.1v2h-1.1zM203.88 158.50h1.1v2h-1.1z" fill="#38381c" fill-opacity="0.8"/>
<path transform="translate(202.58,159.00)" d="M-2.3 -2.2H2.3V-0.4H1.5L1.35 0.6H0.6L0.47 2.3H-0.47L-0.6 0.6H-1.35L-1.5 -0.4H-2.3Z" fill="#0000ff"/>
<path d="M203.62 154.90h1.1v2h-1.1zM207.32 154.90h1.1v2h-1.1z" fill="#38381c" fill-opacity="0.8"/>
<path transform="translate(206.02,155.40)" d="M-2.3 -2.2H2.3V-0.4H1.5L1.35 0.6H0.6L0.47 2.3H-0.47L-0.6 0.6H-1.35L-1.5 -0.4H-2.3Z" fill="#0000ff"/>
<path d="M207.07 151.50h1.1v2h-1.1zM210.77 151.50h1.1v2h-1.1z" fill="#38381c" fill-opacity="0.8"/>
<path transform="translate(209.47,152.00)" d="M-2.3 -2.2H2.3V-0.4H1.5L1.35 0.6H0.6L0.47 2.3H-0.47L-0.6 0.6H-1.35L-1.5 -0.4H-2.3Z" fill="#0000ff"/>
<path d="M210.51 148.30h1.1v2h-1.1zM214.21 148.30h1.1v2h-1.1z" fill="#38381c" fill-opacity="0.8"/>
<path transform="translate(212.91,148.80)" d="M-2.3 -2.2H2.3V-0.4H1.5L1.35 0.6H0.6L0.47 2.3H-0.47L-0.6 0.6H-1.35L-1.5 -0.4H-2.3Z" fill="#0000ff"/>
<path d="M213.96 145.30h1.1v2h-1.1zM217.66 145.30h1.1v2h-1.1z" fill="#38381c" fill-opacity="0.8"/>
<path transform="translate(216.36,145.80)" d="M-2.3 -2.2H2.3V-0.4H1.5L1.35 0.6H0.6L0.47 2.3H-0.47L-0.6 0.6H-1.35L-1.5 -0.4H-2.3Z" fill="#0000ff"/>
<path d="M217.40 142.65h1.1v2h-1.1zM221.10 142.65h1.1v2h-1.1z" fill="#38381c" fill-opacity="0.8"/>
<path transform="translate(219.80,143.15)" d="M-2.3 -2.2H2.3V-0.4H1.5L1.35 0.6H0.6L0.47 2.3H-0.47L-0.6 0.6H-1.35L-1.5 -0.4H-2.3Z" fill="#0000ff"/>
<path d="M220.85 139.90h1.1v2h-1.1zM224.55 139.90h1.1v2h-1.1z" fill="#38381c" fill-opacity="0.8"/>
<path transform="translate(223.25,140.40)" d="M-2.3 -2.2H2.3V-0.4H1.5L1.35 0.6H0.6L0.47 2.3H-0.47L-0.6 0.6H-1.35L-1.5 -0.4H-2.3Z" fill="#0000ff"/>
<path d="M224.29 137.20h1.1v2h-1.1zM227.99 137.20h1.1v2h-1.1z" fill="#38381c" fill-opacity="0.8"/>
<path transform="translate(226.69,137.70)" d="M-2.3 -2.2H2.3V-0.4H1.5L1.35 0.6H0.6L0.47 2.3H-0.47L-0.6 0.6H-1.35L-1.5 -0.4H-2.3Z" fill="#0000ff"/>
<path d="M227.74 134.90h1.1v2h-1.1zM231.44 134.90h1.1v2h-1.1z" fill="#38381c" fill-opacity="0.8"/>
<path transform="translate(230.14,135.40)" d="M-2.3 -2.2H2.3V-0.4H1.5L1.35 0.6H0.6L0.47 2.3H-0.47L-0.6 0.6H-1.35L-1.5 -0.4H-2.3Z" fill="#0000ff"/>
<path d="M231.18 132.70h1.1v2h-1.1zM234.88 132.70h1.1v2h-1.1z" fill="#38381c" fill-opacity="0.8"/>
<path transform="translate(233.58,133.20)" d="M-2.3 -2.2H2.3V-0.4H1.5L1.35 0.6H0.6L0.47 2.3H-0.47L-0.6 0.6H-1.35L-1.5 -0.4H-2.3Z" fill="#0000ff"/>
<path d="M234.63 130.50h1.1v2h-1.1zM238.33 130.50h1.1v2h-1.1z" fill="#38381c" fill-opacity="0.8"/>
<path transform="translate(237.03,131.00)" d="M-2.3 -2.2H2.3V-0.4H1.5L1.35 0.6H0.6L0.47 2.3H-0.47L-0.6 0.6H-1.35L-1.5 -0.4H-2.3Z" fill="#0000ff"/>
<path d="M238.07 128.40h1.1v2h-1.1zM241.77 128.40h1.1v2h-1.1z" fill="#38381c" fill-opacity="0.8"/>
<path transform="translate(240.47,128.90)" d="M-2.3 -2.2H2.3V-0.4H1.5L1.35 0.6H0.6L0.47 2.3H-0.47L-0.6 0.6H-1.35L-1.5 -0.4H-2.3Z" fill="#0000ff"/>
<path d="M241.52 126.40h1.1v2h-1.1zM245.22 126.40h1.1v2h-1.1z" fill="#38381c" fill-opacity="0.8"/>
<path transform="translate(243.92,126.90)" d="M-2.3 -2.2H2.3V-0.4H1.5L1.35 0.6H0.6L0.47 2.3H-0.47L-0.6 0.6H-1.35L-1.5 -0.4H-2.3Z" fill="#0000ff"/>
<path d="M244.96 124.50h1.1v2h-1.1zM248.66 124.50h1.1v2h-1.1z" fill="#38381c" fill-opacity="0.8"/>
<path transform="translate(247.36,125.00)" d="M-2.3 -2.2H2.3V-0.4H1.5L1.35 0.6H0.6L0.47 2.3H-0.47L-0.6 0.6H-1.35L-1.5 -0.4H-2.3Z" fill="#0000ff"/>
<path d="M248.41 122.80h1.1v2h-1.1zM252.11 122.80h1.1v2h-1.1z" fill="#38381c" fill-opacity="0.8"/>
<path transform="translate(250.81,123.30)" d="M-2.3 -2.2H2.3V-0.4H1.5L1.35 0.6H0.6L0.47 2.3H-0.47L-0.6 0.6H-1.35L-1.5 -0.4H-2.3Z" fill="#0000ff"/>
<path d="M251.85 121.40h1.1v2h-1.1zM255.55 121.40h1.1v2h-1.1z" fill="#38381c" fill-opacity="0.8"/>
<path transform="translate(254.25,121.90)" d="M-2.3 -2.2H2.3V-0.4H1.5L1.35 0.6H0.6L0.47 2.3H-0.47L-0.6 0.6H-1.35L-1.5 -0.4H-2.3Z" fill="#0000ff"/>
<path d="M255.30 120.05h1.1v2h-1.1zM259.00 120.05h1.1v2h-1.1z" fill="#38381c" fill-opacity="0.8"/>
<path transform="translate(257.70,120.55)" d="M-2.3 -2.2H2.3V-0.4H1.5L1.35 0.6H0.6L0.47 2.3H-0.47L-0.6 0.6H-1.35L-1.5 -0.4H-2.3Z" fill="#0000ff"/>
<path d="M258.74 119.15h1.1v2h-1.1zM262.44 119.15h1.1v2h-1.1z" fill="#38381c" fill-opacity="0.8"/>
<path transform="translate(261.14,119.65)" d="M-2.3 -2.2H2.3V-0.4H1.5L1.35 0.6H0.6L0.47 2.3H-0.47L-0.6 0.6H-1.35L-1.5 -0.4H-2.3Z" fill="#0000ff"/>
<path d="M262.19 118.85h1.1v2h-1.1zM265.89 118.85h1.1v2h-1.1z" fill="#38381c" fill-opacity="0.8"/>
<path transform="translate(264.59,119.35)" d="M-2.3 -2.2H2.3V-0.4H1.5L1.35 0.6H0.6L0.47 2.3H-0.47L-0.6 0.6H-1.35L-1.5 -0.4H-2.3Z" fill="#0000ff"/>
<path d="M265.63 118.85h1.1v2h-1.1zM269.33 118.85h1.1v2h-1.1z" fill="#38381c" fill-opacity="0.8"/>
<path transform="translate(268.03,119.35)" d="M-2.3 -2.2H2.3V-0.4H1.5L1.35 0.6H0.6L0.47 2.3H-0.47L-0.6 0.6H-1.35L-1.5 -0.4H-2.3Z" fill="#0000ff"/>
<path d="M269.08 119.15h1.1v2h-1.1zM272.78 119.15h1.1v2h-1.1z" fill="#38381c" fill-opacity="0.8"/>
<path transform="translate(271.48,119.65)" d="M-2.3 -2.2H2.3V-0.4H1.5L1.35 0.6H0.6L0.47 2.3H-0.47L-0.6 0.6H-1.35L-1.5 -0.4H-2.3Z" fill="#0000ff"/>
<path d="M272.52 119.85h1.1v2h-1.1zM276.22 119.85h1.1v2h-1.1z" fill="#38381c" fill-opacity="0.8"/>
<path transform="translate(274.92,120.35)" d="M-2.3 -2.2H2.3V-0.4H1.5L1.35 0.6H0.6L0.47 2.3H-0.47L-0.6 0.6H-1.35L-1.5 -0.4H-2.3Z" fill="#0000ff"/>
<path d="M275.97 120.85h1.1v2h-1.1zM279.67 120.85h1.1v2h-1.1z" fill="#38381c" fill-opacity="0.8"/>
<path transform="translate(278.37,121.35)" d="M-2.3 -2.2H2.3V-0.4H1.5L1.35 0.6H0.6L0.47 2.3H-0.47L-0.6 0.6H-1.35L-1.5 -0.4H-2.3Z" fill="#0000ff"/>
<path d="M279.41 122.30h1.1v2h-1.1zM283.11 122.30h1.1v2h-1.1z" fill="#38381c" fill-opacity="0.8"/>
<path transform="translate(281.81,122.80)" d="M-2.3 -2.2H2.3V-0.4H1.5L1.35 0.6H0.6L0.47 2.3H-0.47L-0.6 0.6H-1.35L-1.5 -0.4H-2.3Z" fill="#0000ff"/>
<path d="M282.86 123.80h1.1v2h-1.1zM286.56 123.80h1.1v2h-1.1z" fill="#38381c" fill-opacity="0.8"/>
<path transform="translate(285.26,124.30)" d="M-2.3 -2.2H2.3V-0.4H1.5L1.35 0.6H0.6L0.47 2.3H-0.47L-0.6 0.6H-1.35L-1.5 -0.4H-2.3Z" fill="#0000ff"/>
<path d="M286.30 125.90h1.1v2h-1.1zM290.00 125.90h1.1v2h-1.1z" fill="#38381c" fill-opacity="0.8"/>
<path transform="translate(288.70,126.40)" d="M-2.3 -2.2H2.3V-0.4H1.5L1.35 0.6H0.6L0.47 2.3H-0.47L-0.6 0.6H-1.35L-1.5 -0.4H-2.3Z" fill="#0000ff"/>
<path d="M289.75 128.40h1.1v2h-1.1zM293.45 128.40h1.1v2h-1.1z" fill="#38381c" fill-opacity="0.8"/>
<path transform="translate(292.15,128.90)" d="M-2.3 -2.2H2.3V-0.4H1.5L1.35 0.6H0.6L0.47 2.3H-0.47L-0.6 0.6H-1.35L-1.5 -0.4H-2.3Z" fill="#0000ff"/>
<path d="M293.19 131.00h1.1v2h-1.1zM296.89 131.00h1.1v2h-1.1z" fill="#38381c" fill-opacity="0.8"/>
<path transform="translate(295.59,131.50)" d="M-2.3 -2.2H2.3V-0.4H1.5L1.35 0.6H0.6L0.47 2.3H-0.47L-0.6 0.6H-1.35L-1.5 -0.4H-2.3Z" fill="#0000ff"/>
<path d="M296.64 134.20h1.1v2h-1.1zM300.34 134.20h1.1v2h-1.1z" fill="#38381c" fill-opacity="0.8"/>
<path transform="translate(299.04,134.70)" d="M-2.3 -2.2H2.3V-0.4H1.5L1.35 0.6H0.6L0.47 2.3H-0.47L-0.6 0.6H-1.35L-1.5 -0.4H-2.3Z" fill="#0000ff"/>
<path d="M300.08 138.00h1.1v2h-1.1zM303.78 138.00h1.1v2h-1.1z" fill="#38381c" fill-opacity="0.8"/>
<path transform="translate(302.48,138.50)" d="M-2.3 -2.2H2.3V-0.4H1.5L1.35 0.6H0.6L0.47 2.3H-0.47L-0.6 0.6H-1.35L-1.5 -0.4H-2.3Z" fill="#0000ff"/>
<path d="M303.53 142.00h1.1v2h-1.1zM307.23 142.00h1.1v2h-1.1z" fill="#38381c" fill-opacity="0.8"/>
<path transform="translate(305.93,142.50)" d="M-2.3 -2.2H2.3V-0.4H1.5L1.35 0.6H0.6L0.47 2.3H-0.47L-0.6 0.6H-1.35L-1.5 -0.4H-2.3Z" fill="#0000ff"/>
<path d="M306.97 147.20h1.1v2h-1.1zM310.67 147.20h1.1v2h-1.1z" fill="#38381c" fill-opacity="0.8"/>
<path transform="translate(309.37,147.70)" d="M-2.3 -2.2H2.3V-0.4H1.5L1.35 0.6H0.6L0.47 2.3H-0.47L-0.6 0.6H-1.35L-1.5 -0.4H-2.3Z" fill="#0000ff"/>
<path d="M310.42 153.20h1.1v2h-1.1zM314.12 153.20h1.1v2h-1.1z" fill="#38381c" fill-opacity="0.8"/>
<path transform="translate(312.82,153.70)" d="M-2.3 -2.2H2.3V-0.4H1.5L1.35 0.6H0.6L0.47 2.3H-0.47L-0.6 0.6H-1.35L-1.5 -0.4H-2.3Z" fill="#0000ff"/>
<path d="M313.86 159.90h1.1v2h-1.1zM317.56 159.90h1.1v2h-1.1z" fill="#38381c" fill-opacity="0.8"/>
<path transform="translate(316.26,160.40)" d="M-2.3 -2.2H2.3V-0.4H1.5L1.35 0.6H0.6L0.47 2.3H-0.47L-0.6 0.6H-1.35L-1.5 -0.4H-2.3Z" fill="#0000ff"/>
<path d="M317.31 167.30h1.1v2h-1.1zM321.01 167.30h1.1v2h-1.1z" fill="#38381c" fill-opacity="0.8"/>
<path transform="translate(319.71,167.80)" d="M-2.3 -2.2H2.3V-0.4H1.5L1.35 0.6H0.6L0.47 2.3H-0.47L-0.6 0.6H-1.35L-1.5 -0.4H-2.3Z" fill="#0000ff"/>
<path d="M320.75 176.00h1.1v2h-1.1zM324.45 176.00h1.1v2h-1.1z" fill="#38381c" fill-opacity="0.8"/>
<path transform="translate(323.15,176.50)" d="M-2.3 -2.2H2.3V-0.4H1.5L1.35 0.6H0.6L0.47 2.3H-0.47L-0.6 0.6H-1.35L-1.5 -0.4H-2.3Z" fill="#0000ff"/>
<path d="M324.20 185.90h1.1v2h-1.1zM327.90 185.90h1.1v2h-1.1z" fill="#38381c" fill-opacity="0.8"/>
<path transform="translate(326.60,186.40)" d="M-2.3 -2.2H2.3V-0.4H1.5L1.35 0.6H0.6L0.47 2.3H-0.47L-0.6 0.6H-1.35L-1.5 -0.4H-2.3Z" fill="#0000ff"/>
<path d="M327.64 197.40h1.1v2h-1.1zM331.34 197.40h1.1v2h-1.1z" fill="#38381c" fill-opacity="0.8"/>
<path transform="translate(330.04,197.90)" d="M-2.3 -2.2H2.3V-0.4H1.5L1.35 0.6H0.6L0.47 2.3H-0.47L-0.6 0.6H-1.35L-1.5 -0.4H-2.3Z" fill="#0000ff"/>
<path d="M331.09 210.50h1.1v2h-1.1zM334.79 210.50h1.1v2h-1.1z" fill="#38381c" fill-opacity="0.8"/>
<path transform="translate(333.49,211.00)" d="M-2.3 -2.2H2.3V-0.4H1.5L1.35 0.6H0.6L0.47 2.3H-0.47L-0.6 0.6H-1.35L-1.5 -0.4H-2.3Z" fill="#0000ff"/>
<path d="M334.53 225.00h1.1v2h-1.1zM338.23 225.00h1.1v2h-1.1z" fill="#38381c" fill-opacity="0.8"/>
<path transform="translate(336.93,225.50)" d="M-2.3 -2.2H2.3V-0.4H1.5L1.35 0.6H0.6L0.47 2.3H-0.47L-0.6 0.6H-1.35L-1.5 -0.4H-2.3Z" fill="#0000ff"/>
<path d="M337.98 242.10h1.1v2h-1.1zM341.68 242.10h1.1v2h-1.1z" fill="#38381c" fill-opacity="0.8"/>
<path transform="translate(340.38,242.60)" d="M-2.3 -2.2H2.3V-0.4H1.5L1.35 0.6H0.6L0.47 2.3H-0.47L-0.6 0.6H-1.35L-1.5 -0.4H-2.3Z" fill="#0000ff"/>
<path d="M341.42 262.70h1.1v2h-1.1zM345.12 262.70h1.1v2h-1.1z" fill="#38381c" fill-opacity="0.8"/>
<path transform="translate(343.82,263.20)" d="M-2.3 -2.2H2.3V-0.4H1.5L1.35 0.6H0.6L0.47 2.3H-0.47L-0.6 0.6H-1.35L-1.5 -0.4H-2.3Z" fill="#0000ff"/>
<path d="M344.87 285.40h1.1v2h-1.1zM348.57 285.40h1.1v2h-1.1z" fill="#38381c" fill-opacity="0.8"/>
<path transform="translate(347.27,285.90)" d="M-2.3 -2.2H2.3V-0.4H1.5L1.35 0.6H0.6L0.47 2.3H-0.47L-0.6 0.6H-1.35L-1.5 -0.4H-2.3Z" fill="#0000ff"/>
<path d="M350.71 314.90V320.90M349.41 314.90h2.6M349.41 320.90h2.6" stroke="#000" stroke-width="0.9" fill="none"/>
<path d="M348.31 317.40h1.1v2h-1.1zM352.01 317.40h1.1v2h-1.1z" fill="#38381c" fill-opacity="0.8"/>
<path transform="translate(350.71,317.90)" d="M-2.3 -2.2H2.3V-0.4H1.5L1.35 0.6H0.6L0.47 2.3H-0.47L-0.6 0.6H-1.35L-1.5 -0.4H-2.3Z" fill="#0000ff"/>
<path d="M354.16 331.80V341.80M352.86 331.80h2.6M352.86 341.80h2.6" stroke="#000" stroke-width="0.9" fill="none"/>
<path d="M351.76 336.30h1.1v2h-1.1zM355.46 336.30h1.1v2h-1.1z" fill="#38381c" fill-opacity="0.8"/>
<path transform="translate(354.16,336.80)" d="M-2.3 -2.2H2.3V-0.4H1.5L1.35 0.6H0.6L0.47 2.3H-0.47L-0.6 0.6H-1.35L-1.5 -0.4H-2.3Z" fill="#0000ff"/>
</g>
<rect x="66.50" y="20.50" width="344.50" height="329.35" fill="none" stroke="#000" stroke-width="1.1"/>
<path d="M83.25 349.85v-5.00M83.25 20.50v5.00M100.50 349.85v-10.00M100.50 20.50v10.00M117.75 349.85v-5.00M117.75 20.50v5.00M135.00 349.85v-5.00M135.00 20.50v5.00M152.25 349.85v-5.00M152.25 20.50v5.00M169.50 349.85v-10.00M169.50 20.50v10.00M186.75 349.85v-5.00M186.75 20.50v5.00M204.00 349.85v-5.00M204.00 20.50v5.00M221.25 349.85v-5.00M221.25 20.50v5.00M238.50 349.85v-10.00M238.50 20.50v10.00M255.75 349.85v-5.00M255.75 20.50v5.00M273.00 349.85v-5.00M273.00 20.50v5.00M290.25 349.85v-5.00M290.25 20.50v5.00M307.50 349.85v-10.00M307.50 20.50v10.00M324.75 349.85v-5.00M324.75 20.50v5.00M342.00 349.85v-5.00M342.00 20.50v5.00M359.25 349.85v-5.00M359.25 20.50v5.00M376.50 349.85v-10.00M376.50 20.50v10.00M393.75 349.85v-5.00M393.75 20.50v5.00M66.50 335.04h5.30M411.00 335.04h-5.30M66.50 326.38h5.30M411.00 326.38h-5.30M66.50 320.23h5.30M411.00 320.23h-5.30M66.50 315.47h5.30M411.00 315.47h-5.30M66.50 311.57h5.30M411.00 311.57h-5.30M66.50 308.28h5.30M411.00 308.28h-5.30M66.50 305.43h5.30M411.00 305.43h-5.30M66.50 302.91h5.30M411.00 302.91h-5.30M66.50 300.66h10.00M411.00 300.66h-10.00M66.50 285.85h5.30M411.00 285.85h-5.30M66.50 277.19h5.30M411.00 277.19h-5.30M66.50 271.04h5.30M411.00 271.04h-5.30M66.50 266.27h5.30M411.00 266.27h-5.30M66.50 262.38h5.30M411.00 262.38h-5.30M66.50 259.09h5.30M411.00 259.09h-5.30M66.50 256.23h5.30M411.00 256.23h-5.30M66.50 253.72h5.30M411.00 253.72h-5.30M66.50 251.47h10.00M411.00 251.47h-10.00M66.50 236.66h5.30M411.00 236.66h-5.30M66.50 228.00h5.30M411.00 228.00h-5.30M66.50 221.85h5.30M411.00 221.85h-5.30M66.50 217.08h5.30M411.00 217.08h-5.30M66.50 213.19h5.30M411.00 213.19h-5.30M66.50 209.89h5.30M411.00 209.89h-5.30M66.50 207.04h5.30M411.00 207.04h-5.30M66.50 204.53h5.30M411.00 204.53h-5.30M66.50 202.28h10.00M411.00 202.28h-10.00M66.50 187.47h5.30M411.00 187.47h-5.30M66.50 178.80h5.30M411.00 178.80h-5.30M66.50 172.66h5.30M411.00 172.66h-5.30M66.50 167.89h5.30M411.00 167.89h-5.30M66.50 164.00h5.30M411.00 164.00h-5.30M66.50 160.70h5.30M411.00 160.70h-5.30M66.50 157.85h5.30M411.00 157.85h-5.30M66.50 155.33h5.30M411.00 155.33h-5.30M66.50 153.08h10.00M411.00 153.08h-10.00M66.50 138.28h5.30M411.00 138.28h-5.30M66.50 129.61h5.30M411.00 129.61h-5.30M66.50 123.47h5.30M411.00 123.47h-5.30M66.50 118.70h5.30M411.00 118.70h-5.30M66.50 114.80h5.30M411.00 114.80h-5.30M66.50 111.51h5.30M411.00 111.51h-5.30M66.50 108.66h5.30M411.00 108.66h-5.30M66.50 106.14h5.30M411.00 106.14h-5.30M66.50 103.89h10.00M411.00 103.89h-10.00M66.50 89.08h5.30M411.00 89.08h-5.30M66.50 80.42h5.30M411.00 80.42h-5.30M66.50 74.28h5.30M411.00 74.28h-5.30M66.50 69.51h5.30M411.00 69.51h-5.30M66.50 65.61h5.30M411.00 65.61h-5.30M66.50 62.32h5.30M411.00 62.32h-5.30M66.50 59.47h5.30M411.00 59.47h-5.30M66.50 56.95h5.30M411.00 56.95h-5.30M66.50 54.70h10.00M411.00 54.70h-10.00M66.50 39.89h5.30M411.00 39.89h-5.30M66.50 31.23h5.30M411.00 31.23h-5.30M66.50 25.08h5.30M411.00 25.08h-5.30" stroke="#000" stroke-width="0.72" fill="none"/>
<path d="M69.45 349.55v-1.6M72.90 349.55v-1.6M76.35 349.55v-1.6M79.80 349.55v-1.6M83.25 349.55v-1.6M86.70 349.55v-1.6M90.15 349.55v-1.6M93.60 349.55v-1.6M97.05 349.55v-1.6M100.50 349.55v-1.6M103.95 349.55v-1.6M107.40 349.55v-1.6M110.85 349.55v-1.6M114.30 349.55v-1.6M117.75 349.55v-1.6M366.15 349.55v-1.6M369.60 349.55v-1.6M373.05 349.55v-1.6M376.50 349.55v-1.6M379.95 349.55v-1.6M383.40 349.55v-1.6M386.85 349.55v-1.6M390.30 349.55v-1.6M393.75 349.55v-1.6M397.20 349.55v-1.6M400.65 349.55v-1.6M404.10 349.55v-1.6M407.55 349.55v-1.6" stroke="#000" stroke-width="0.9" fill="none"/>
<text x="100.65" y="368.6" font-size="18" text-anchor="middle">-4</text>
<text x="169.55" y="368.6" font-size="18" text-anchor="middle">-2</text>
<text x="237.85" y="368.6" font-size="18" text-anchor="middle">0</text>
<text x="306.75" y="368.6" font-size="18" text-anchor="middle">2</text>
<text x="375.65" y="368.6" font-size="18" text-anchor="middle">4</text>
<path transform="translate(33.20,358.55)" d="M6.46 0V-12.78H5.25C4.95-11.25 3.85-10.35 1.84-10.12V-9.0H4.86V0Z" fill="#000"/>
<text x="53.2" y="358.55" font-size="18" text-anchor="end">0</text>
<rect x="54.0" y="346.75" width="3.1" height="1.05" fill="#000"/>
<path transform="translate(57.50,350.75) scale(0.665)" d="M6.46 0V-12.78H5.25C4.95-11.25 3.85-10.35 1.84-10.12V-9.0H4.86V0Z" fill="#000"/>
<path transform="translate(55.24,308.96)" d="M6.46 0V-12.78H5.25C4.95-11.25 3.85-10.35 1.84-10.12V-9.0H4.86V0Z" fill="#000"/>
<path transform="translate(42.00,259.77)" d="M6.46 0V-12.78H5.25C4.95-11.25 3.85-10.35 1.84-10.12V-9.0H4.86V0Z" fill="#000"/>
<text x="62.0" y="259.77" font-size="18" text-anchor="end">0</text>
<path transform="translate(34.40,210.97)" d="M6.46 0V-12.78H5.25C4.95-11.25 3.85-10.35 1.84-10.12V-9.0H4.86V0Z" fill="#000"/>
<text x="54.4" y="210.97" font-size="18" text-anchor="end">0</text>
<text x="54.7" y="202.47" font-size="11.5">2</text>
<path transform="translate(34.40,161.78)" d="M6.46 0V-12.78H5.25C4.95-11.25 3.85-10.35 1.84-10.12V-9.0H4.86V0Z" fill="#000"/>
<text x="54.4" y="161.78" font-size="18" text-anchor="end">0</text>
<text x="54.7" y="153.28" font-size="11.5">3</text>
<path transform="translate(34.40,112.59)" d="M6.46 0V-12.78H5.25C4.95-11.25 3.85-10.35 1.84-10.12V-9.0H4.86V0Z" fill="#000"/>
<text x="54.4" y="112.59" font-size="18" text-anchor="end">0</text>
<text x="54.7" y="104.09" font-size="11.5">4</text>
<path transform="translate(34.40,63.40)" d="M6.46 0V-12.78H5.25C4.95-11.25 3.85-10.35 1.84-10.12V-9.0H4.86V0Z" fill="#000"/>
<text x="54.4" y="63.40" font-size="18" text-anchor="end">0</text>
<text x="54.7" y="54.90" font-size="11.5">5</text>
<text x="408.3" y="387.3" font-size="22" text-anchor="end">y(t)</text>
<text transform="translate(23.1,173.35) rotate(-90) scale(1.013,1)" font-size="22.9">d</text>
<text transform="translate(23.1,159.85) rotate(-90) scale(1.064,1)" font-size="22.9">σ</text>
<text transform="translate(23.1,145.50) rotate(-90) scale(1.064,1)" font-size="22.9">/</text>
<text transform="translate(23.1,139.68) rotate(-90) scale(0.998,1)" font-size="22.9">d</text>
<text transform="translate(23.1,126.41) rotate(-90) scale(0.898,1)" font-size="22.9">y</text>
<text transform="translate(23.1,107.37) rotate(-90) scale(0.921,1)" font-size="22.9">×</text>
<text transform="translate(23.1,89.22) rotate(-90) scale(1.013,1)" font-size="22.9">G</text>
<text transform="translate(23.1,72.00) rotate(-90) scale(1.019,1)" font-size="22.9">e</text>
<text transform="translate(23.1,58.71) rotate(-90) scale(0.913,1)" font-size="22.9">V</text>
<text transform="translate(23.1,44.40) rotate(-90) scale(0.963,1)" font-size="22.9">/</text>
<text transform="translate(23.1,38.81) rotate(-90) scale(0.973,1)" font-size="22.9">f</text>
<text transform="translate(23.1,32.64) rotate(-90) scale(0.974,1)" font-size="22.9">b</text>
</svg></body></html>
